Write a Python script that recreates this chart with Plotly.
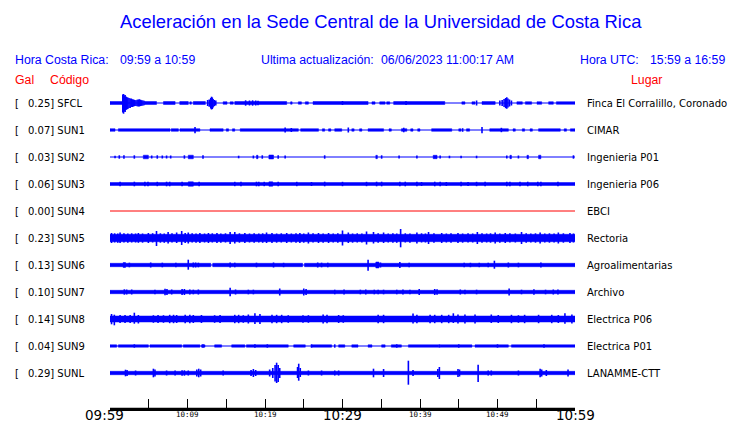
import plotly.graph_objects as go

# ---------------- data ----------------
codes = ["SFCL", "SUN1", "SUN2", "SUN3", "SUN4", "SUN5", "SUN6", "SUN7", "SUN8", "SUN9", "SUNL"]
peak_gal = [0.25, 0.07, 0.03, 0.06, 0.00, 0.23, 0.13, 0.10, 0.14, 0.04, 0.29]
places = ["Finca El Corralillo, Coronado", "CIMAR", "Ingenieria P01", "Ingenieria P06", "EBCI",
          "Rectoria", "Agroalimentarias", "Archivo", "Electrica P06", "Electrica P01", "LANAMME-CTT"]

tick_minutes = [0, 5, 10, 15, 20, 25, 30, 35, 40, 45, 50, 55, 60]
tick_labels = ["09:59", "", "10:09", "", "10:19", "", "10:29", "", "10:39", "", "10:49", "", "10:59"]
major_labels = ["09:59", "10:29", "10:59"]

title_text = "Aceleración en la Sede Central de la Universidad de Costa Rica"
local_range = "09:59 a 10:59"
utc_range = "15:59 a 16:59"
updated = "06/06/2023 11:00:17 AM"

# envelope blocks: [start minute, end minute, half amplitude]
sfcl_bands = [[0, 1.65, 1.5], [4.5, 6.0, 1.5], [6.9, 8.4, 1.5], [9.0, 10.1, 1.5], [10.3, 10.5, 1.2],
              [10.75, 12.3, 1.5], [14.6, 15.1, 1.3], [15.5, 15.9, 1.2], [16.1, 22.8, 1.5],
              [23.3, 23.5, 1.2], [24.3, 24.7, 1.2], [25.2, 25.6, 1.2], [26.2, 33.3, 1.5],
              [33.8, 34.2, 1.2], [34.8, 35.5, 1.2], [35.7, 36.1, 1.2], [36.6, 43.2, 1.5],
              [45.4, 45.8, 1.2], [46.7, 47.1, 1.2], [48.0, 49.7, 1.4], [52.5, 53.2, 1.3],
              [53.6, 54.4, 1.3], [55.1, 55.7, 1.3], [56.6, 57.2, 1.3], [57.6, 60, 1.3]]
sfcl_spikes = [[1.65, 8.5, 9.5], [1.75, 9.0, 10.7], [1.85, 7.5, 8.5], [1.95, 8.0, 9.0], [2.05, 6.5, 7.0],
               [2.15, 6.0, 6.5], [2.3, 5.5, 6.0], [2.45, 5.0, 5.0], [2.6, 4.5, 5.0], [2.75, 4.5, 4.0],
               [2.9, 3.8, 4.0], [3.05, 3.5, 3.5], [3.2, 3.0, 3.0], [3.35, 2.8, 3.0], [3.5, 3.2, 3.2],
               [3.65, 3.5, 3.5], [3.8, 3.8, 3.5], [3.95, 3.2, 3.0], [4.1, 2.8, 2.8], [4.25, 2.5, 2.5],
               [4.4, 2.2, 2.2], [12.6, 3.0, 3.0], [12.8, 3.5, 3.8], [13.0, 5.0, 5.5], [13.1, 6.3, 6.5],
               [13.2, 5.5, 6.0], [13.3, 4.0, 4.5], [13.45, 3.0, 3.2], [13.65, 2.5, 2.5],
               [17.5, 2.7, 2.7], [18.0, 2.5, 2.5], [18.4, 2.7, 2.7], [18.8, 2.5, 2.5], [19.1, 2.3, 2.3],
               [30.0, 2.0, 2.0], [38.2, 2.0, 2.0], [47.3, 2.5, 2.5], [50.3, 2.5, 2.5], [50.6, 3.0, 3.0],
               [50.85, 4.0, 4.0], [51.05, 5.0, 5.2], [51.2, 5.7, 5.7], [51.35, 4.5, 4.5],
               [51.55, 3.5, 3.5], [51.8, 2.5, 2.5]]

sun1_bands = [[0, 0.65, 1.3], [1.08, 7.74, 1.3], [7.9, 8.82, 1.3], [9.03, 11.6, 1.3], [12.9, 14.6, 1.3],
              [15.0, 15.3, 1.2], [15.8, 16.1, 1.2], [16.8, 24.3, 1.3], [24.6, 26.9, 1.3],
              [27.4, 27.7, 1.2], [28.2, 28.5, 1.2], [29.0, 29.9, 1.3], [31.2, 31.5, 1.2],
              [32.2, 32.5, 1.2], [33.3, 35.3, 1.3], [36.0, 36.3, 1.2], [37.6, 38.3, 1.3],
              [38.8, 39.1, 1.2], [39.7, 40.0, 1.2], [41.5, 44.1, 1.3], [45.0, 45.3, 1.2],
              [46.0, 46.4, 1.2], [49.0, 51.4, 1.3], [52.0, 52.3, 1.2], [53.2, 53.5, 1.2],
              [54.2, 54.5, 1.2], [55.3, 58.1, 1.3], [58.6, 58.9, 1.2], [59.4, 60, 1.2]]
sun1_spikes = [[10.97, 3.0, 3.3], [22.6, 2.5, 2.5], [23.4, 2.0, 2.0], [30.75, 2.5, 2.5], [37.9, 2.3, 2.3],
               [45.5, 1.8, 1.8], [48.0, 3.0, 3.3], [50.5, 2.2, 2.2]]

sun2_bands = [[4.3, 4.95, 1.8], [10.1, 10.75, 1.8], [18.9, 19.1, 1.7], [20.5, 21.1, 2.0], [34.3, 34.5, 1.7],
              [41.7, 42.2, 1.7], [51.6, 51.8, 1.7], [53.8, 54.0, 1.7], [55.3, 55.6, 1.8]]
sun2_spikes = [[0.65, 1.3, 1.3], [1.2, 1.7, 1.7], [1.8, 1.7, 1.7], [3.14, 1.7, 1.7], [5.38, 1.5, 1.5],
               [6.1, 1.7, 1.7], [6.75, 1.5, 1.5], [7.3, 1.5, 1.5], [7.83, 1.5, 1.5], [9.6, 1.7, 1.7],
               [12.0, 1.7, 1.7], [16.6, 1.3, 1.3], [18.5, 1.5, 1.5], [19.65, 1.7, 1.7], [21.7, 1.7, 1.7],
               [22.6, 1.5, 1.5], [27.7, 1.7, 1.7], [35.05, 1.7, 1.7], [37.3, 1.5, 1.5], [39.6, 1.5, 1.5],
               [42.6, 1.5, 1.5], [43.8, 1.3, 1.3], [45.3, 1.3, 1.3], [47.3, 1.3, 1.3], [51.2, 1.5, 1.5],
               [52.7, 1.5, 1.5], [59.8, 1.7, 1.7]]

sun3_bands = [[0, 60, 1.5], [10.1, 10.75, 2.2], [20.5, 21.0, 2.2]]
sun3_spikes = [[1.3, 2.3, 2.3], [3.14, 2.3, 2.3], [4.5, 2.3, 2.3], [4.9, 2.3, 2.3], [6.1, 2.2, 2.2],
               [7.3, 2.3, 2.3], [7.7, 2.3, 2.3], [9.3, 2.2, 2.2], [11.5, 2.2, 2.2], [16.1, 2.2, 2.2],
               [16.9, 2.2, 2.2], [18.9, 2.3, 2.3], [19.2, 2.2, 2.2], [19.9, 2.2, 2.2], [21.7, 2.2, 2.2],
               [24.1, 2.2, 2.2], [26.0, 2.0, 2.0], [27.7, 2.3, 2.3], [30.0, 2.2, 2.2], [33.1, 2.2, 2.2],
               [34.4, 2.3, 2.3], [35.05, 2.3, 2.3], [37.4, 2.2, 2.2], [38.1, 2.3, 2.3], [39.6, 2.2, 2.2],
               [40.2, 2.0, 2.0], [41.9, 2.3, 2.3], [42.6, 2.2, 2.2], [43.4, 2.0, 2.0], [45.3, 2.2, 2.2],
               [46.2, 2.0, 2.0], [47.3, 2.2, 2.2], [48.4, 2.2, 2.2], [51.2, 2.3, 2.3], [51.6, 2.3, 2.3],
               [52.9, 2.2, 2.2], [53.9, 2.3, 2.3], [55.2, 2.3, 2.3], [55.6, 2.3, 2.3], [57.8, 2.2, 2.2]]

sun4_bands = []
sun4_spikes = []

sun5_bands = [[0, 60, 3.7]]
sun5_spikes = [[0.2, 5, 5], [0.6, 4.7, 4.5], [1.0, 4.5, 4.8], [1.3, 5.5, 5], [1.8, 4.8, 4.5], [2.3, 4.5, 4.7],
               [2.8, 4.7, 4.5], [3.3, 4.5, 4.5], [3.66, 5, 4.8], [4.2, 4.5, 4.7], [4.95, 5, 5], [5.5, 4.8, 4.5],
               [6.0, 7, 8], [6.5, 4.7, 4.7], [7.0, 4.5, 4.8], [7.5, 6, 5.5], [8.0, 4.8, 4.5], [8.6, 5.5, 5],
               [9.25, 7, 7], [9.7, 5, 5], [10.1, 5.5, 5.5], [10.6, 4.7, 4.5], [11.1, 4.5, 4.7], [11.6, 5, 5],
               [12.2, 4.5, 4.5], [12.7, 5, 5], [13.2, 4.7, 4.5], [13.8, 5, 5], [14.3, 4.5, 4.7],
               [14.9, 4.7, 4.5], [15.5, 6, 6], [16.1, 6, 5.5], [16.7, 4.7, 4.7], [17.4, 5, 5], [18.0, 4.5, 4.5],
               [18.6, 4.7, 4.7], [19.2, 4.5, 4.5], [19.7, 4.7, 4.8], [20.2, 5.5, 5], [20.9, 5, 5],
               [21.5, 4.5, 4.7], [22.1, 4.7, 4.5], [22.8, 5, 5], [23.4, 4.5, 4.5], [24.0, 4.7, 4.7],
               [24.5, 5, 5], [25.0, 4.5, 4.7], [25.6, 5.5, 5.5], [26.2, 4.7, 4.5], [26.9, 5, 5],
               [27.5, 4.5, 4.7], [28.2, 5, 5], [28.8, 4.5, 4.5], [29.4, 4.7, 4.7], [30.0, 7.5, 7.5],
               [30.75, 5.5, 5], [31.3, 4.5, 4.7], [31.9, 4.7, 4.5], [32.5, 4.5, 4.5], [33.1, 6.5, 6.5],
               [34.0, 6, 5.5], [34.6, 4.7, 4.7], [35.3, 5.5, 5], [35.9, 4.5, 4.5], [36.5, 4.7, 4.7],
               [37.0, 4.5, 4.8], [37.5, 9, 9.3], [38.1, 4.7, 4.5], [38.7, 4.5, 4.7], [39.6, 5.5, 5.5],
               [40.2, 4.7, 4.5], [40.7, 4.5, 4.5], [41.1, 6, 6], [41.8, 4.7, 4.7], [42.8, 5, 5],
               [43.4, 4.5, 4.5], [44.0, 4.7, 4.7], [44.9, 5, 5], [45.5, 4.5, 4.7], [46.2, 4.7, 4.5],
               [46.8, 4.5, 4.5], [47.4, 6, 6], [48.0, 4.7, 4.7], [48.6, 4.5, 4.5], [49.1, 4.7, 4.7],
               [49.7, 5.5, 5.5], [50.3, 4.5, 4.7], [51.0, 5, 5], [51.6, 4.7, 4.5], [52.3, 4.5, 4.5],
               [53.1, 6, 6], [53.7, 4.7, 4.7], [54.3, 4.5, 4.5], [54.9, 4.7, 4.7], [55.5, 5.5, 5.5],
               [56.1, 4.5, 4.5], [56.7, 4.7, 4.7], [57.3, 4.5, 4.5], [57.85, 5.5, 5.5], [58.5, 4.7, 4.7],
               [59.35, 5, 5], [59.8, 4.5, 4.5]]

sun6_bands = [[0, 13.0, 1.7], [13.25, 24.85, 1.7], [25.1, 60, 1.7], [1.7, 2.0, 2.5], [34.3, 34.7, 3.0]]
sun6_spikes = [[2.5, 2.3, 2.3], [5.25, 2.5, 2.5], [6.75, 2.3, 2.3], [8.5, 2.2, 2.2], [10.1, 5.3, 4.7],
               [10.75, 2.5, 2.5], [11.05, 2.5, 2.5], [11.4, 2.3, 2.3], [15.5, 2.5, 2.5], [16.1, 2.3, 2.3],
               [18.9, 2.3, 2.3], [21.1, 2.5, 2.5], [22.4, 2.2, 2.2], [26.8, 2.5, 2.5], [27.3, 2.3, 2.3],
               [28.1, 2.3, 2.3], [33.3, 5.3, 5.7], [34.9, 2.5, 2.5], [37.4, 3, 3], [38.6, 2.3, 2.3],
               [45.7, 2.2, 2.2], [46.5, 2.2, 2.2], [47.65, 2.2, 2.2], [48.8, 2.3, 2.3], [49.6, 4.3, 3.7],
               [51.4, 2.5, 2.5], [52.7, 2.3, 2.3], [55.6, 2.5, 2.5]]

sun7_bands = [[0, 60, 1.7]]
sun7_spikes = [[1.85, 2.7, 2.7], [2.15, 2.5, 2.5], [2.8, 2.5, 2.5], [5.8, 2.3, 2.3], [7.1, 3.3, 3.3],
               [7.35, 3, 3], [7.96, 2.5, 2.5], [9.3, 3, 3], [9.6, 3, 3], [10.3, 2.5, 2.5], [10.75, 2.3, 2.3],
               [11.4, 2.5, 2.5], [15.5, 4.3, 4.3], [16.2, 2.5, 2.5], [17.85, 2.3, 2.3], [18.5, 2.3, 2.3],
               [21.9, 3.5, 3.5], [25.0, 3.5, 3.5], [25.3, 3, 3], [29.0, 2.3, 2.3], [30.2, 2.5, 2.5],
               [32.3, 2.3, 2.3], [33.0, 2.5, 2.5], [34.1, 2.3, 2.3], [34.6, 2.3, 2.3], [35.3, 2.3, 2.3],
               [37.0, 2.3, 2.3], [37.8, 2.5, 2.5], [38.7, 2.3, 2.3], [39.9, 3, 3], [41.9, 3, 3],
               [42.2, 2.8, 2.8], [45.2, 2.5, 2.5], [45.8, 2.3, 2.3], [47.3, 2.3, 2.3], [51.5, 3.5, 3.5],
               [53.1, 2.3, 2.3], [54.7, 2.7, 2.7], [56.2, 2.3, 2.3], [57.2, 2.5, 2.5], [57.8, 2.5, 2.5]]

sun8_bands = [[0, 60, 3.0]]
sun8_spikes = [[0.2, 5, 5.3], [0.56, 4.3, 6.3], [1.3, 4, 4], [1.94, 4, 4], [2.6, 4, 4], [3.14, 6.3, 4.7],
               [3.66, 4, 4.5], [5.6, 3.8, 3.8], [6.2, 4, 4], [6.9, 3.8, 3.8], [7.7, 4.2, 4.2], [8.2, 4.2, 4.2],
               [8.6, 4, 4], [9.7, 4.2, 4.2], [10.3, 4.2, 4.2], [10.75, 4, 4], [11.8, 4, 4], [13.5, 3.8, 3.8],
               [14.2, 4, 4], [16.1, 4.2, 4.2], [16.6, 4.2, 4.2], [17.2, 3.8, 3.8], [17.85, 4.5, 4.5],
               [18.7, 5.7, 5], [19.35, 5, 5], [20.9, 4.2, 4.2], [21.5, 4.2, 4.2], [22.15, 4.2, 4.2],
               [23.0, 3.8, 3.8], [24.9, 3.8, 3.8], [25.6, 3.8, 3.8], [27.5, 4.5, 4.5], [28.0, 4.2, 4.2],
               [29.5, 4, 4], [30.1, 3.8, 3.8], [34.6, 4.2, 4.2], [35.3, 4.2, 4.2], [39.1, 5.5, 4.5],
               [39.6, 4.2, 4.2], [41.3, 4.2, 4.2], [41.9, 4.2, 4.2], [42.8, 4.2, 4.2], [43.7, 4.2, 4.2],
               [44.3, 5.7, 4], [44.9, 4.5, 4.5], [45.8, 4.5, 4.5], [47.1, 4.5, 4.5], [49.2, 4.5, 4],
               [50.1, 4, 4], [51.8, 4.2, 4.2], [52.7, 3.8, 3.8], [53.5, 4.2, 4.2], [55.3, 4.2, 4.2],
               [57.0, 4.2, 4.2], [57.85, 4, 4], [58.7, 5.7, 4.7], [59.6, 4.5, 4.5]]

sun9_bands = [[0, 0.86, 1.2], [1.08, 4.95, 1.2], [5.16, 9.25, 1.2], [9.46, 11.6, 1.2], [11.8, 12.26, 1.2],
              [13.5, 14.4, 1.2], [15.7, 17.4, 1.2], [17.6, 23.0, 1.2], [23.7, 25.2, 1.2], [26.0, 28.6, 1.2],
              [29.5, 30.3, 1.2], [31.2, 32.0, 1.2], [33.3, 33.8, 1.2], [35.05, 35.5, 1.2], [36.3, 37.6, 1.2],
              [38.5, 42.4, 1.2], [42.6, 46.7, 1.2], [47.1, 51.4, 1.2], [51.8, 60, 1.2]]
sun9_spikes = [[3.14, 1.7, 1.7], [12.0, 1.7, 1.7], [18.7, 1.7, 1.7], [20.3, 1.7, 1.7], [26.0, 1.7, 1.7],
               [29.0, 1.7, 1.7], [37.0, 1.7, 1.7], [42.5, 1.7, 1.7], [45.0, 1.7, 1.7], [50.0, 1.7, 1.7],
               [56.0, 1.7, 1.7]]

sunl_bands = [[0, 60, 1.7]]
sunl_spikes = [[2.0, 3.3, 3.3], [2.2, 3.0, 3.0], [3.3, 2.5, 2.5], [5.6, 4.3, 4.3], [5.8, 3.5, 3.5],
               [7.3, 2.5, 2.5], [8.4, 2.5, 2.5], [9.3, 2.7, 2.7], [9.6, 2.7, 2.7], [10.1, 2.5, 2.5],
               [11.2, 3.5, 3.5], [11.45, 4.3, 4.3], [11.7, 3.5, 3.5], [14.6, 2.5, 2.5], [18.2, 3, 3],
               [18.5, 4, 4], [18.8, 3, 3], [20.6, 3.5, 3.5], [21.0, 5, 5], [21.3, 8, 8.5], [21.5, 10.3, 10],
               [21.7, 8, 9], [21.9, 5, 5], [24.2, 6, 5], [24.35, 9.3, 7.7], [24.55, 5, 4], [25.6, 2.5, 2.5],
               [27.3, 2.5, 2.5], [29.0, 2.5, 2.5], [29.5, 2.5, 2.5], [34.0, 4.3, 4.3], [35.3, 4, 4],
               [38.5, 12.3, 11.7], [39.1, 3, 3], [42.3, 4, 4], [42.5, 6, 6], [44.9, 4, 4], [45.1, 3.5, 3.5],
               [47.5, 8.3, 9], [48.8, 2.5, 2.5], [49.2, 2.5, 2.5], [52.7, 2.5, 2.5], [55.5, 4.3, 4.3],
               [55.7, 3.5, 3.5], [56.3, 3, 3], [59.1, 3.5, 3.5]]

station_bands = [sfcl_bands, sun1_bands, sun2_bands, sun3_bands, sun4_bands, sun5_bands,
                 sun6_bands, sun7_bands, sun8_bands, sun9_bands, sunl_bands]
station_spikes = [sfcl_spikes, sun1_spikes, sun2_spikes, sun3_spikes, sun4_spikes, sun5_spikes,
                  sun6_spikes, sun7_spikes, sun8_spikes, sun9_spikes, sunl_spikes]

# ---------------- layout constants ----------------
W, H = 740, 423
L, R, T, B = 110, 165, 89, 14
ROW = 27
PH = H - T - B
BLUE = "#0000ff"
RED = "#ff0000"
SANS = "Liberation Sans, Arial, sans-serif"
DJ = "DejaVu Sans, sans-serif"
MONO = "DejaVu Sans Mono, monospace"


def xp(px):
    return (px - L) / (W - L - R)


def yp(py):
    return (H - B - py) / PH


fig = go.Figure()

for i, code in enumerate(codes):
    off = -ROW * i
    col = RED if peak_gal[i] == 0 else BLUE
    fig.add_trace(go.Scatter(x=[tick_minutes[0], tick_minutes[-1]], y=[off, off], mode="lines",
                             line=dict(color=col, width=1), hoverinfo="skip"))
    bx, by = [], []
    for t0, t1, a in station_bands[i]:
        bx += [t0, t1, t1, t0, t0, None]
        by += [off + a, off + a, off - a, off - a, off + a, None]
    if bx:
        fig.add_trace(go.Scatter(x=bx, y=by, mode="lines", fill="toself", fillcolor=col,
                                 line=dict(color=col, width=0.5), hoverinfo="skip"))
    sx, sy = [], []
    for t, up, dn in station_spikes[i]:
        sx += [t, t, None]
        sy += [off + up, off - dn, None]
    if sx:
        fig.add_trace(go.Scatter(x=sx, y=sy, mode="lines", line=dict(color=col, width=1.6),
                                 hoverinfo="skip"))

ann = []
for i, code in enumerate(codes):
    off = -ROW * i
    ann.append(dict(x=xp(13), y=off, xref="paper", yref="y", text="[", showarrow=False,
                    xanchor="left", yanchor="middle", font=dict(family=DJ, size=10, color="black")))
    ann.append(dict(x=xp(25.5), y=off, xref="paper", yref="y", text=f"{peak_gal[i]:.2f}] {code}",
                    showarrow=False, xanchor="left", yanchor="middle",
                    font=dict(family=DJ, size=10, color="black")))
    ann.append(dict(x=xp(585), y=off, xref="paper", yref="y", text=places[i], showarrow=False,
                    xanchor="left", yanchor="middle", font=dict(family=DJ, size=10, color="black")))


def txt(px, py, s, color, size, anchor="left", fam=SANS):
    ann.append(dict(x=xp(px), y=yp(py), xref="paper", yref="paper", text=s, showarrow=False,
                    xanchor=anchor, yanchor="middle", font=dict(family=fam, size=size, color=color)))


txt(380.5, 22, title_text, BLUE, 18.4, "center")
txt(13, 60, "Hora Costa Rica:", BLUE, 12.3)
txt(118, 60, local_range, BLUE, 12.3)
txt(259, 60, "Ultima actualización:", BLUE, 12.3)
txt(379, 60, updated, BLUE, 12.3)
txt(578, 60, "Hora UTC:", BLUE, 12.3)
txt(648, 60, utc_range, BLUE, 12.3)
txt(13, 80, "Gal", RED, 12.3)
txt(48, 80, "Código", RED, 12.3)
txt(646, 80, "Lugar", RED, 12.3, "center")

# time tick labels (big at the half hours, small otherwise)
for m, lab in zip(tick_minutes, tick_labels):
    if not lab:
        continue
    big = lab in major_labels
    ann.append(dict(x=m, y=yp(415.3 if big else 414.5), xref="x", yref="paper", text=lab,
                    showarrow=False, xanchor="center", yanchor="middle", borderpad=0, borderwidth=0,
                    xshift=-6 if m == tick_minutes[0] else 0,
                    font=dict(family=DJ if big else MONO, size=13.5 if big else 7.5, color="black")))

fig.update_layout(
    width=W, height=H, autosize=False, margin=dict(l=L, r=R, t=T, b=B, pad=0, autoexpand=False),
    paper_bgcolor="white", plot_bgcolor="white", showlegend=False,
    annotations=ann,
    shapes=[dict(type="line", xref="paper", yref="paper", x0=0, x1=1,
                 y0=yp(408.5), y1=yp(408.5), line=dict(color="black", width=1.5), layer="above")],
    xaxis=dict(range=[tick_minutes[0], tick_minutes[-1]], showgrid=False, zeroline=False,
               showline=True, linecolor="black", linewidth=2, ticks="inside", ticklen=10,
               tickcolor="black", tickwidth=1, tickmode="array", tickvals=tick_minutes,
               showticklabels=False, automargin=False, fixedrange=True),
    yaxis=dict(range=[14 - PH, 14], visible=False, automargin=False, fixedrange=True),
)

page_fix = "document.body.style.margin='0';document.body.style.overflow='hidden';"

fig.write_html("out.html", config={"displayModeBar": False, "responsive": False},
               post_script=page_fix)
